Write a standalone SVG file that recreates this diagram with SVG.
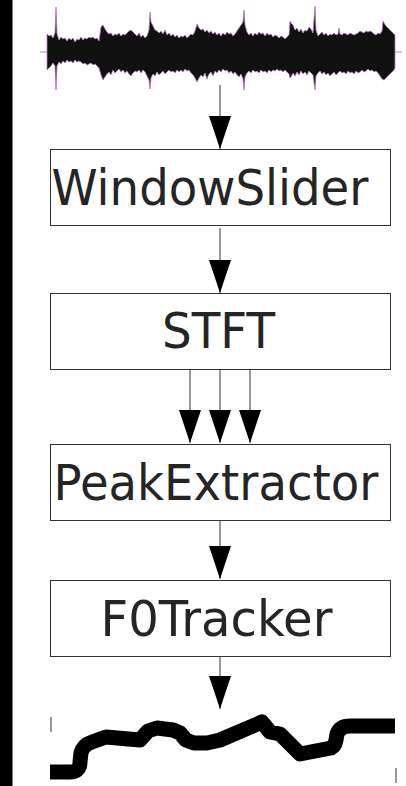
<svg xmlns="http://www.w3.org/2000/svg" width="406" height="786" viewBox="0 0 406 786">
<style>
.box{fill:#fff;stroke:#333;stroke-width:1}
.lbl{font-family:"DejaVu Sans",sans-serif;font-size:49px;fill:#252525}
.conn{stroke:#333;stroke-width:1;fill:none}
</style>
<defs>
<marker id="ah" viewBox="0 0 33 22" refX="33" refY="11" markerWidth="33" markerHeight="22" markerUnits="userSpaceOnUse" orient="auto">
<path d="M0,0 L33,11 L0,22 Z" fill="#000"/>
</marker>
</defs>
<rect width="406" height="786" fill="#fff"/>
<rect x="0" y="0" width="12" height="786" fill="#000"/>
<rect x="12" y="0" width="1" height="786" fill="#777"/>
<g id="waveform">
<line x1="40" y1="52" x2="402" y2="52" stroke="#c080c8" stroke-width="1"/>
<path fill="#111" stroke="#b878c0" stroke-width="0.8" stroke-linejoin="round" d="M47,34 L49,36 51,35 53,38 55,33 56,7 57,34 59,40 61,37 63,39 65,38 67,41 69,38 71,40 73,38 75,42 77,39 79,40 81,37 83,40 85,38 87,39 89,37 91,38 93,37 95,39 97,38 99,41 101,27 103,25 105,29 107,32 109,34 111,33 113,36 115,34 117,35 119,33 121,36 123,34 125,35 127,33 129,31 131,30 133,32 135,34 137,36 139,33 141,37 143,35 145,38 147,36 149,30 150,12 151,22 153,26 155,30 157,31 159,33 161,31 163,34 165,30 167,35 169,33 171,36 173,34 175,37 177,35 179,38 181,36 183,37 185,35 187,38 189,36 191,34 193,35 195,31 197,24 199,28 201,30 203,29 205,32 207,30 209,33 211,31 213,34 215,32 217,35 219,33 221,36 223,33 225,35 227,32 229,34 231,33 233,36 235,34 237,31 239,28 241,25 243,22 244,10 245,25 247,32 249,35 251,33 253,36 255,33 257,35 259,32 261,34 263,33 265,36 267,33 269,35 271,34 273,37 275,35 277,36 279,38 281,36 283,37 285,39 287,37 289,35 290,21 291,23 293,25 295,30 297,28 299,32 301,29 303,33 305,30 307,31 309,27 311,29 313,33 315,6 316,30 318,36 320,34 322,32 324,35 326,33 328,36 330,34 332,35 334,33 336,35 338,34 339,28 340,34 342,35 344,33 346,34 348,35 350,33 352,34 354,35 356,34 358,33 360,31 362,32 364,33 366,31 368,32 370,31 372,32 374,34 376,35 378,33 380,34 382,31 383,21 384,23 386,26 388,28 390,30 392,32 394,34 395,35 L395,68 394,70 392,72 390,74 388,76 386,78 384,80 382,79 380,76 378,73 376,71 374,72 372,70 370,71 368,69 366,71 364,72 362,70 360,72 358,73 356,71 354,74 352,72 350,73 348,71 346,74 344,72 342,73 340,71 338,73 336,75 334,72 332,74 330,76 328,73 326,75 324,72 322,74 320,71 318,73 316,76 315,90 313,75 311,73 309,71 307,75 305,72 303,74 301,71 299,75 297,72 295,76 293,73 291,77 290,78 289,74 287,72 285,70 283,72 281,70 279,71 277,69 275,71 273,70 271,72 269,70 267,73 265,71 263,72 261,70 259,73 257,71 255,72 253,70 251,73 249,71 247,73 245,77 244,90 243,79 241,74 239,77 237,75 235,72 233,74 231,71 229,73 227,70 225,71 223,69 221,72 219,70 217,73 215,71 213,76 211,72 209,74 207,79 205,73 203,77 201,75 199,78 197,82 195,78 193,75 191,73 189,70 187,71 185,69 183,72 181,70 179,72 177,70 175,73 173,71 171,72 169,70 167,72 165,74 163,71 161,73 159,75 157,72 155,76 153,74 151,78 150,89 149,80 147,76 145,72 143,70 141,73 139,70 137,72 135,71 133,73 131,76 129,74 127,71 125,73 123,70 121,72 119,69 117,71 115,73 113,70 111,75 109,72 107,74 105,77 103,80 101,75 99,68 97,66 95,64 93,65 91,63 89,64 87,65 85,63 83,64 81,62 79,61 77,62 75,60 73,63 71,61 69,62 67,60 65,63 63,61 61,64 59,62 57,66 56,90 55,66 53,63 51,66 49,68 47,70 Z"/>
</g>
<g id="connectors">
<line class="conn" x1="220" y1="85" x2="220" y2="149" marker-end="url(#ah)"/>
<line class="conn" x1="220" y1="228" x2="220" y2="293" marker-end="url(#ah)"/>
<line class="conn" x1="190" y1="369" x2="190" y2="443" marker-end="url(#ah)"/>
<line class="conn" x1="220" y1="369" x2="220" y2="443" marker-end="url(#ah)"/>
<line class="conn" x1="250" y1="369" x2="250" y2="443" marker-end="url(#ah)"/>
<line class="conn" x1="220" y1="520" x2="220" y2="579" marker-end="url(#ah)"/>
<line class="conn" x1="220" y1="656" x2="220" y2="709" marker-end="url(#ah)"/>
</g>
<g id="windowslider">
<rect class="box" x="50.5" y="149.5" width="340" height="76"/>
<text class="lbl" x="51.5" y="205" textLength="317" lengthAdjust="spacingAndGlyphs">WindowSlider</text>
</g>
<g id="stft">
<rect class="box" x="50.5" y="293.5" width="340" height="76"/>
<text class="lbl" x="162" y="348" textLength="113" lengthAdjust="spacingAndGlyphs">STFT</text>
</g>
<g id="peakextractor">
<rect class="box" x="50.5" y="444.5" width="340" height="76"/>
<text class="lbl" x="53.5" y="500" textLength="325" lengthAdjust="spacingAndGlyphs">PeakExtractor</text>
</g>
<g id="f0tracker">
<rect class="box" x="50.5" y="580.5" width="340" height="76"/>
<text class="lbl" x="100.5" y="635.5" textLength="232" lengthAdjust="spacingAndGlyphs">F0Tracker</text>
</g>
<g id="f0curve">
<line x1="51" y1="717" x2="51" y2="732" stroke="#333" stroke-width="1"/>
<line x1="396" y1="768" x2="396" y2="783" stroke="#333" stroke-width="1"/>
<path fill="none" stroke="#000" stroke-width="15" stroke-linejoin="round" stroke-linecap="butt" d="M50,772 L70,772 Q80,772 80,762 L81,753 Q83,745 92,742 L106,737 L140,740 L148,731 L157,728 L173,730 L180,733 L186,740 L194,743 L207,743 L220,740 L262,722 L270,732 L280,734 L300,754 L331,748 Q335,746 336,740 L337,734 Q340,726 350,726 L395,726"/>
</g>
</svg>
